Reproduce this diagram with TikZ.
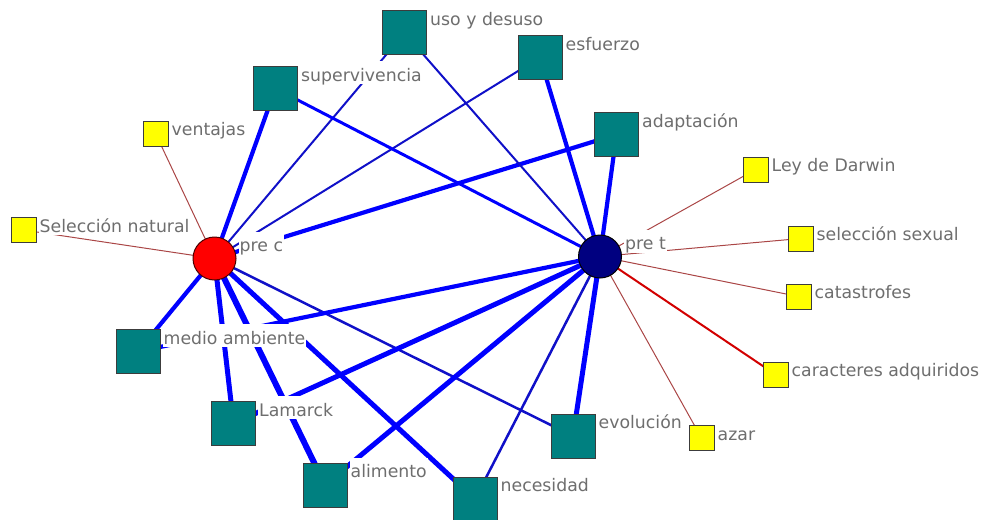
\documentclass[tikz,border=0pt]{standalone}
\usepackage{fontspec}
\setmainfont{DejaVu Sans}
\pgfdeclarelayer{edges}
\pgfdeclarelayer{labels}
\pgfsetlayers{edges,main,labels}
\definecolor{tealbox}{RGB}{0,128,128}
\definecolor{yelbox}{RGB}{255,255,0}
\definecolor{boxline}{RGB}{60,60,60}
\definecolor{hubred}{RGB}{255,0,0}
\definecolor{hubnavy}{RGB}{0,0,128}
\definecolor{linkblue}{RGB}{0,0,255}
\definecolor{linkdark}{RGB}{16,16,200}
\definecolor{linkbrown}{RGB}{170,70,70}
\definecolor{linkred}{RGB}{210,0,0}
\definecolor{labelgray}{RGB}{110,110,110}
\tikzset{
  concept/.style={rectangle, fill=tealbox, draw=boxline, line width=1pt,
    minimum size=44pt, inner sep=0pt},
  term/.style={rectangle, fill=yelbox, draw=boxline, line width=1pt,
    minimum size=25pt, inner sep=0pt},
  hub/.style={circle, minimum size=43pt, inner sep=0pt, line width=1pt},
  lbl/.style={anchor=base west, xshift=2pt, yshift=-15pt, fill=white,
    text=labelgray, font=\fontsize{17.3}{20}\selectfont,
    inner xsep=1pt, inner ysep=1.5pt, text height=18.5pt, text depth=1.5pt},
  ea/.style={draw=linkdark, line width=2pt},
  eb/.style={draw=linkdark, line width=2.5pt},
  ec/.style={draw=linkblue, line width=3pt},
  ed/.style={draw=linkblue, line width=4.2pt},
  ee/.style={draw=linkblue, line width=5pt},
  ef/.style={draw=linkblue, line width=6pt},
  tie/.style={draw=linkbrown, line width=1pt},
  redtie/.style={draw=linkred, line width=2pt},
}
\begin{document}
\begin{tikzpicture}[x=1pt, y=-1pt]
\useasboundingbox (0,0) rectangle (981,519);

% the two central hubs
\node[hub, fill=hubred, draw=black!70!red] (prec) at (214.5,258.5) {};
\node[hub, fill=hubnavy, draw=black] (pret) at (600,256.5) {};

% teal concept boxes
\node[concept] (uso) at (404.5,33) {};
\node[concept] (esf) at (540,57.5) {};
\node[concept] (sup) at (275.5,88.5) {};
\node[concept] (ada) at (616.5,134.5) {};
\node[concept] (med) at (138,351.5) {};
\node[concept] (lam) at (233.5,423.5) {};
\node[concept] (ali) at (325,485) {};
\node[concept] (nec) at (475,499) {};
\node[concept] (evo) at (573,436) {};

% yellow term boxes
\node[term] (ven) at (155.5,133.5) {};
\node[term] (sel) at (23.5,230) {};
\node[term] (ley) at (755.5,169.5) {};
\node[term] (sex) at (800.5,238.5) {};
\node[term] (cat) at (798.5,296.5) {};
\node[term] (car) at (775.5,374.5) {};
\node[term] (aza) at (701.5,438) {};

% links, drawn beneath the boxes
\begin{pgfonlayer}{edges}
  \draw[ed] (prec.center) -- (sup.center);
  \draw[ea] (prec.center) -- (uso.center);
  \draw[ea] (prec.center) -- (esf.center);
  \draw[ed] (prec.center) -- (ada.center);
  \draw[ed] (prec.center) -- (med.center);
  \draw[ee] (prec.center) -- (lam.center);
  \draw[ef] (prec.center) -- (ali.center);
  \draw[ee] (prec.center) -- (nec.center);
  \draw[eb] (prec.center) -- (evo.center);
  \draw[ec] (pret.center) -- (sup.center);
  \draw[ea] (pret.center) -- (uso.center);
  \draw[ed] (pret.center) -- (esf.center);
  \draw[ed] (pret.center) -- (ada.center);
  \draw[ed] (pret.center) -- (med.center);
  \draw[ee] (pret.center) -- (lam.center);
  \draw[ee] (pret.center) -- (ali.center);
  \draw[eb] (pret.center) -- (nec.center);
  \draw[ee] (pret.center) -- (evo.center);
  \draw[tie] (prec.center) -- (ven.center);
  \draw[tie] (prec.center) -- (sel.center);
  \draw[tie] (pret.center) -- (ley.center);
  \draw[tie] (pret.center) -- (sex.center);
  \draw[tie] (pret.center) -- (cat.center);
  \draw[redtie] (pret.center) -- (car.center);
  \draw[tie] (pret.center) -- (aza.center);
\end{pgfonlayer}

% labels on white, above the links
\begin{pgfonlayer}{labels}
  \node[lbl] (prec-l) at (prec.east |- prec.north) {pre c};
  \node[lbl] (pret-l) at (pret.east |- pret.north) {pre t};
  \node[lbl] (uso-l) at (uso.north east) {uso y desuso};
  \node[lbl] (esf-l) at (esf.north east) {esfuerzo};
  \node[lbl] (sup-l) at (sup.north east) {supervivencia};
  \node[lbl] (ada-l) at (ada.north east) {adaptación};
  \node[lbl] (med-l) at (med.north east) {medio ambiente};
  \node[lbl] (lam-l) at (lam.north east) {Lamarck};
  \node[lbl] (ali-l) at (ali.north east) {alimento};
  \node[lbl] (nec-l) at (nec.north east) {necesidad};
  \node[lbl] (evo-l) at (evo.north east) {evolución};
  \node[lbl] (ven-l) at (ven.north east) {ventajas};
  \node[lbl] (sel-l) at (sel.north east) {Selección natural};
  \node[lbl] (ley-l) at (ley.north east) {Ley de Darwin};
  \node[lbl] (sex-l) at (sex.north east) {selección sexual};
  \node[lbl] (cat-l) at (cat.north east) {catastrofes};
  \node[lbl] (car-l) at (car.north east) {caracteres adquiridos};
  \node[lbl] (aza-l) at (aza.north east) {azar};
\end{pgfonlayer}
\end{tikzpicture}
\end{document}
